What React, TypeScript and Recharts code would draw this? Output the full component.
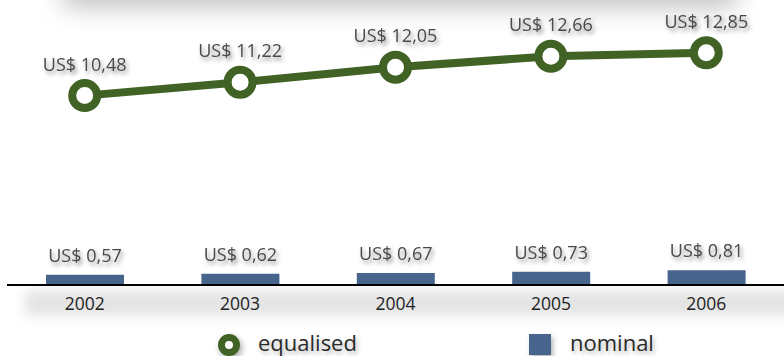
import React from 'react';
import { ComposedChart, Bar, Line, XAxis, YAxis, Legend, LabelList } from 'recharts';

const years = ['2002', '2003', '2004', '2005', '2006'];
const equalised = [10.48, 11.22, 12.05, 12.66, 12.85];
const nominal = [0.57, 0.62, 0.67, 0.73, 0.81];

const data = years.map((year, i) => ({ year, equalised: equalised[i], nominal: nominal[i] }));

const GREEN = '#406224';
const BLUE = '#46648c';
const FONT = '"Open Sans", sans-serif';

const fmt = (v: number) => `US$ ${v.toFixed(2).replace('.', ',')}`;

const LineLabel = (props: any) => {
  const { x, y, value } = props;
  return (
    <text x={x} y={y - 25} textAnchor="middle" fontSize={18} fill="#4a4a4a" fontFamily={FONT} filter="url(#tshadow)">
      {fmt(value)}
    </text>
  );
};

const BarLabel = (props: any) => {
  const { x, y, width, value } = props;
  return (
    <text x={x + width / 2} y={y - 13} textAnchor="middle" fontSize={18} fill="#4a4a4a" fontFamily={FONT} filter="url(#tshadow)">
      {fmt(value)}
    </text>
  );
};

const LegendContent = () => (
  <div style={{ position: 'relative', width: 784, height: 41, fontFamily: FONT, fontSize: 22, color: '#2a2a2a' }}>
    <svg style={{ position: 'absolute', left: 209, top: 17, overflow: 'visible', filter: 'drop-shadow(2px 3px 3px rgba(0,0,0,0.35))' }} width={26} height={26}>
      <circle cx={13} cy={13} r={7.5} fill="#fff" stroke={GREEN} strokeWidth={7} />
    </svg>
    <span style={{ position: 'absolute', left: 251, top: 15, lineHeight: '24px', textShadow: '2px 3px 4px rgba(0,0,0,0.3)' }}>equalised</span>
    <div style={{ position: 'absolute', left: 522, top: 19, width: 22, height: 21, background: BLUE, boxShadow: '2px 3px 5px rgba(0,0,0,0.3)' }} />
    <span style={{ position: 'absolute', left: 563, top: 15, lineHeight: '24px', textShadow: '2px 3px 4px rgba(0,0,0,0.3)' }}>nominal</span>
  </div>
);

export default function App() {
  return (
    <div style={{ position: 'absolute', left: 0, top: 0, width: 784, height: 356, overflow: 'hidden', background: '#fff' }}>
      <div style={{ position: 'absolute', left: 60, top: -24, width: 680, height: 32, background: '#c4c4c4', filter: 'blur(12px)', borderRadius: 20 }} />
      <div style={{ position: 'absolute', left: 25, top: 290, width: 780, height: 26, background: '#e4e4e4', filter: 'blur(6px)' }} />
      <div style={{ position: 'absolute', left: 0, top: 0 }}>
        <ComposedChart width={784} height={356} data={data} margin={{ top: 32, right: 0, left: 7, bottom: 0 }} barCategoryGap={0}>
          <defs>
            <filter id="tshadow" x="-20%" y="-50%" width="150%" height="220%">
              <feDropShadow dx="2" dy="3" stdDeviation="2" floodColor="#000" floodOpacity="0.45" />
            </filter>
          </defs>
          <YAxis hide domain={[0, 14]} />
          <XAxis
            dataKey="year"
            axisLine={{ stroke: '#000', strokeWidth: 2 }}
            tickLine={false}
            tickSize={0}
            tickMargin={13}
            height={30}
            tick={{ fontSize: 17.5, fill: '#222', fontFamily: FONT }}
          />
          <Legend verticalAlign="bottom" height={41} content={<LegendContent />} />
          <Bar dataKey="nominal" fill={BLUE} barSize={78} isAnimationActive={false}>
            <LabelList dataKey="nominal" content={<BarLabel />} />
          </Bar>
          <Line
            dataKey="equalised"
            stroke={GREEN}
            strokeWidth={8}
            dot={{ r: 12.5, fill: '#fff', stroke: GREEN, strokeWidth: 8 }}
            activeDot={false}
            isAnimationActive={false}
          >
            <LabelList dataKey="equalised" content={<LineLabel />} />
          </Line>
        </ComposedChart>
      </div>
    </div>
  );
}
